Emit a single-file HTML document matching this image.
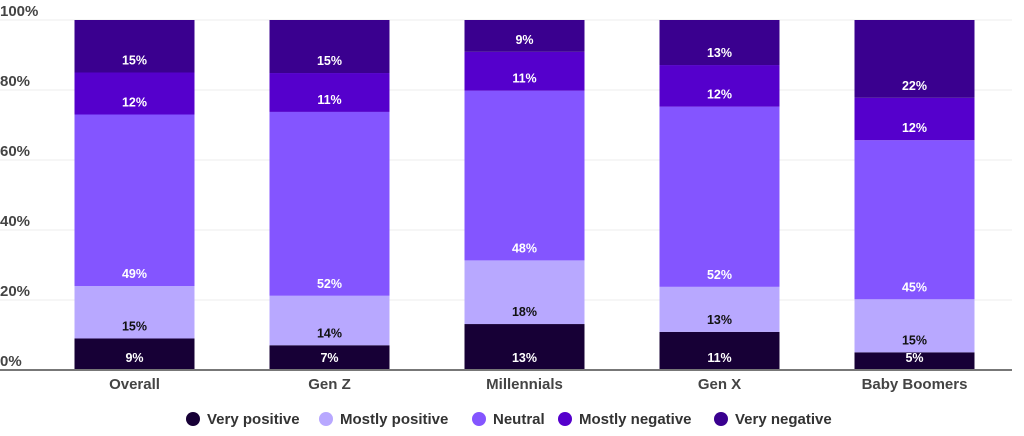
<!DOCTYPE html>
<html><head><meta charset="utf-8"><style>
body{margin:0;background:#fff;font-family:"Liberation Sans",sans-serif}
svg text{font-family:"Liberation Sans",sans-serif;font-weight:bold}
</style></head><body>
<svg id="c" width="1024" height="431"></svg>
<script>
const categories=["Overall","Gen Z","Millennials","Gen X","Baby Boomers"];
const seriesNames=["Very positive","Mostly positive","Neutral","Mostly negative","Very negative"];
const veryPositive=[9,7,13,11,5];
const mostlyPositive=[15,14,18,13,15];
const neutral=[49,52,48,52,45];
const mostlyNegative=[12,11,11,12,12];
const veryNegative=[15,15,9,13,22];
const yTicks=[0,20,40,60,80,100];
const colors=["#170036","#b8a8ff","#8455ff","#5500cc","#3a008f"];
const labelColors=["#fff","#111","#fff","#fff","#fff"];
const series=[veryPositive,mostlyPositive,neutral,mostlyNegative,veryNegative];
const NS="http://www.w3.org/2000/svg",svg=document.getElementById('c');
const y0=370,y1=20,x0=37,bw=195,barW=120;
const y=v=>y0-(y0-y1)*v/100;
const xc=i=>x0+bw*i+bw/2;
function mk(t,a,p){const e=document.createElementNS(NS,t);for(const k in a)e.setAttribute(k,a[k]);(p||svg).appendChild(e);return e;}
yTicks.forEach(t=>{
 const g=mk('line',{x1:0,x2:1012,y1:y(t),y2:y(t),stroke:'#eee','stroke-width':1});
 
 
 const l=mk('text',{x:0,y:y(t)-4,'font-size':15,fill:'#444'});l.textContent=t+'%';
 
 
});
categories.forEach((c,i)=>{
 let acc=0;
 const total=series.reduce((s,a)=>s+a[i],0);
 series.forEach((s,k)=>{
  const v=s[i],pv=v*100/total,top=y(acc+pv),bot=y(acc);acc+=pv;
  const r=mk('rect',{x:xc(i)-barW/2,y:top,width:barW,height:bot-top,fill:colors[k]});
  
  
  const t=mk('text',{x:xc(i),y:bot-8,'text-anchor':'middle','font-size':12.5,fill:labelColors[k]});t.textContent=v+'%';
  
  
 });
 const cl=mk('text',{x:xc(i),y:389,'text-anchor':'middle','font-size':15,fill:'#444'});cl.textContent=c;
 
 
});
const ax=mk('line',{x1:0,x2:1012,y1:y0,y2:y0,stroke:'#777','stroke-width':2});


const lx=[193,326,479,565,721];
seriesNames.forEach((n,k)=>{
 const g=mk('g',{});
 
 
 mk('circle',{cx:lx[k],cy:419,r:7,fill:colors[k]},g);
 const t=mk('text',{x:lx[k]+14,y:424,'font-size':15,fill:'#333'},g);t.textContent=n;
});
</script>
</body></html>
